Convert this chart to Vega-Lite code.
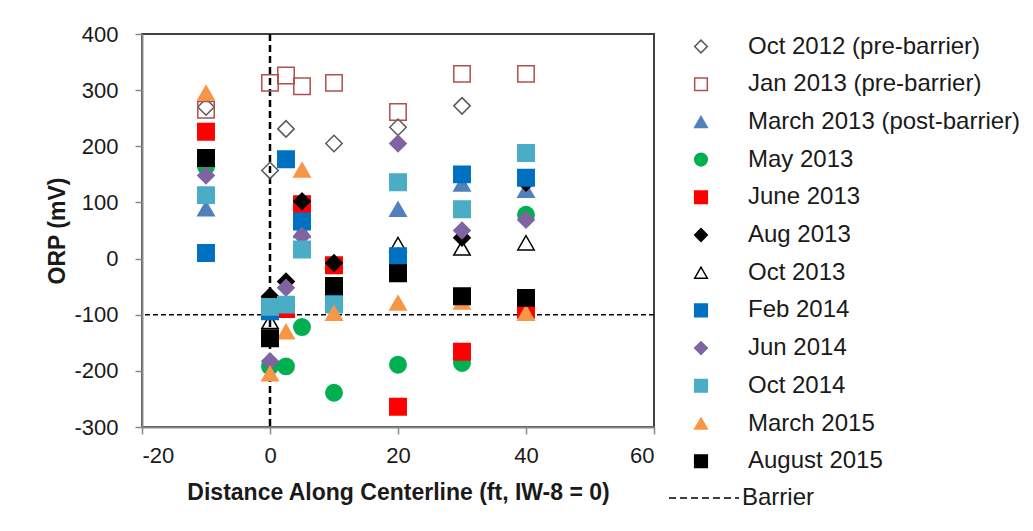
{
  "$schema": "https://vega.github.io/schema/vega-lite/v6.json",
  "autosize": "none",
  "width": 512,
  "height": 393,
  "padding": {"left": 142, "top": 34, "right": 379, "bottom": 104},
  "background": "white",
  "config": {
    "view": {"stroke": "#404040", "strokeWidth": 2},
    "font": "Liberation Sans",
    "axis": {
      "grid": false,
      "domainColor": "#888888",
      "domainWidth": 2,
      "tickColor": "#888888",
      "tickWidth": 1.5,
      "tickSize": 7,
      "labelFont": "Liberation Sans",
      "labelFontSize": 22,
      "labelColor": "#1a1a1a",
      "titleFont": "Liberation Sans",
      "titleFontSize": 23,
      "titleFontWeight": "bold",
      "titleColor": "#1a1a1a"
    }
  },
  "layer": [
    {
      "data": {"values": [{"y": -100}]},
      "mark": {"type": "rule", "color": "black", "strokeWidth": 1.5, "strokeDash": [5, 3]},
      "encoding": {"y": {"field": "y", "type": "quantitative"}}
    },
    {
      "data": {"values": [{"x": 0, "b": "Barrier"}]},
      "mark": {"type": "rule", "color": "black", "strokeWidth": 2.5},
      "encoding": {
        "x": {"field": "x", "type": "quantitative"},
        "strokeDash": {
          "field": "b",
          "type": "nominal",
          "scale": {"domain": ["Barrier"], "range": [[7, 4]]},
          "legend": {
            "title": null,
            "orient": "none",
            "legendX": 526,
            "legendY": 428,
            "padding": 0,
            "symbolType": "stroke",
            "symbolSize": 4900,
            "symbolStrokeWidth": 1.5,
            "symbolStrokeColor": "black",
            "labelOffset": 2,
            "labelFont": "Liberation Sans",
            "labelFontSize": 24,
            "labelColor": "#1a1a1a"
          }
        }
      }
    },
    {
      "data": {"values": [
        {"s": "Oct 2012 (pre-barrier)", "x": -10, "y": 270},
        {"s": "Oct 2012 (pre-barrier)", "x": 0, "y": 157},
        {"s": "Oct 2012 (pre-barrier)", "x": 2.5, "y": 231},
        {"s": "Oct 2012 (pre-barrier)", "x": 10, "y": 205},
        {"s": "Oct 2012 (pre-barrier)", "x": 20, "y": 234},
        {"s": "Oct 2012 (pre-barrier)", "x": 30, "y": 272},
        {"s": "Jan 2013 (pre-barrier)", "x": -10, "y": 265},
        {"s": "Jan 2013 (pre-barrier)", "x": 0, "y": 313},
        {"s": "Jan 2013 (pre-barrier)", "x": 2.5, "y": 326},
        {"s": "Jan 2013 (pre-barrier)", "x": 5, "y": 307},
        {"s": "Jan 2013 (pre-barrier)", "x": 10, "y": 313},
        {"s": "Jan 2013 (pre-barrier)", "x": 20, "y": 261},
        {"s": "Jan 2013 (pre-barrier)", "x": 30, "y": 329},
        {"s": "Jan 2013 (pre-barrier)", "x": 40, "y": 329},
        {"s": "March 2013 (post-barrier)", "x": -10, "y": 89},
        {"s": "March 2013 (post-barrier)", "x": 5, "y": 50},
        {"s": "March 2013 (post-barrier)", "x": 20, "y": 88},
        {"s": "March 2013 (post-barrier)", "x": 30, "y": 133},
        {"s": "March 2013 (post-barrier)", "x": 40, "y": 122},
        {"s": "May 2013", "x": -10, "y": 164},
        {"s": "May 2013", "x": 0, "y": -192},
        {"s": "May 2013", "x": 2.5, "y": -192},
        {"s": "May 2013", "x": 5, "y": -122},
        {"s": "May 2013", "x": 10, "y": -239},
        {"s": "May 2013", "x": 20, "y": -189},
        {"s": "May 2013", "x": 30, "y": -186},
        {"s": "May 2013", "x": 40, "y": 78},
        {"s": "June 2013", "x": -10, "y": 226},
        {"s": "June 2013", "x": 0, "y": -82},
        {"s": "June 2013", "x": 2.5, "y": -90},
        {"s": "June 2013", "x": 5, "y": 97},
        {"s": "June 2013", "x": 10, "y": -12},
        {"s": "June 2013", "x": 20, "y": -264},
        {"s": "June 2013", "x": 30, "y": -166},
        {"s": "June 2013", "x": 40, "y": -91},
        {"s": "Aug 2013", "x": -10, "y": 178},
        {"s": "Aug 2013", "x": 0, "y": -67},
        {"s": "Aug 2013", "x": 2.5, "y": -41},
        {"s": "Aug 2013", "x": 5, "y": 102},
        {"s": "Aug 2013", "x": 10, "y": -8},
        {"s": "Aug 2013", "x": 20, "y": 4},
        {"s": "Aug 2013", "x": 30, "y": 37},
        {"s": "Aug 2013", "x": 40, "y": 135},
        {"s": "Oct 2013", "x": 0, "y": -112},
        {"s": "Oct 2013", "x": 20, "y": 25},
        {"s": "Oct 2013", "x": 30, "y": 19},
        {"s": "Oct 2013", "x": 40, "y": 28},
        {"s": "Feb 2014", "x": -10, "y": 10},
        {"s": "Feb 2014", "x": 0, "y": -94},
        {"s": "Feb 2014", "x": 2.5, "y": 177},
        {"s": "Feb 2014", "x": 5, "y": 66},
        {"s": "Feb 2014", "x": 10, "y": -68},
        {"s": "Feb 2014", "x": 20, "y": 4},
        {"s": "Feb 2014", "x": 30, "y": 150},
        {"s": "Feb 2014", "x": 40, "y": 144},
        {"s": "Jun 2014", "x": -10, "y": 148},
        {"s": "Jun 2014", "x": 0, "y": -183},
        {"s": "Jun 2014", "x": 2.5, "y": -52},
        {"s": "Jun 2014", "x": 5, "y": 40},
        {"s": "Jun 2014", "x": 20, "y": 205},
        {"s": "Jun 2014", "x": 30, "y": 50},
        {"s": "Jun 2014", "x": 40, "y": 69},
        {"s": "Oct 2014", "x": -10, "y": 113},
        {"s": "Oct 2014", "x": 0, "y": -86},
        {"s": "Oct 2014", "x": 2.5, "y": -82},
        {"s": "Oct 2014", "x": 5, "y": 16},
        {"s": "Oct 2014", "x": 10, "y": -82},
        {"s": "Oct 2014", "x": 20, "y": 136},
        {"s": "Oct 2014", "x": 30, "y": 88},
        {"s": "Oct 2014", "x": 40, "y": 188},
        {"s": "March 2015", "x": -10, "y": 295},
        {"s": "March 2015", "x": 0, "y": -205},
        {"s": "March 2015", "x": 2.5, "y": -130},
        {"s": "March 2015", "x": 5, "y": 158},
        {"s": "March 2015", "x": 10, "y": -97},
        {"s": "March 2015", "x": 20, "y": -79},
        {"s": "March 2015", "x": 30, "y": -77},
        {"s": "March 2015", "x": 40, "y": -97},
        {"s": "August 2015", "x": -10, "y": 179},
        {"s": "August 2015", "x": 0, "y": -142},
        {"s": "August 2015", "x": 10, "y": -49},
        {"s": "August 2015", "x": 20, "y": -26},
        {"s": "August 2015", "x": 30, "y": -67},
        {"s": "August 2015", "x": 40, "y": -70}
      ]},
      "mark": {"type": "point", "filled": true, "size": 270, "strokeWidth": 1.5, "opacity": 1},
      "encoding": {
        "x": {
          "field": "x", "type": "quantitative",
          "scale": {"domain": [-20, 60], "nice": false, "zero": false},
          "axis": {"values": [-20, 0, 20, 40, 60], "labelPadding": 11, "titlePadding": 15,
                   "labelExpr": "'' + datum.value",
                   "title": "Distance Along Centerline (ft, IW-8 = 0)"}
        },
        "y": {
          "field": "y", "type": "quantitative",
          "scale": {"domain": [-300, 400], "nice": false, "zero": false},
          "axis": {"values": [-300, -200, -100, 0, 100, 200, 300, 400], "labelPadding": 17, "titlePadding": 4,
                   "labelExpr": "'' + datum.value",
                   "title": "ORP (mV)"}
        },
        "shape": {
          "field": "s", "type": "nominal",
          "scale": {
            "domain": ["Oct 2012 (pre-barrier)", "Jan 2013 (pre-barrier)", "March 2013 (post-barrier)", "May 2013", "June 2013", "Aug 2013", "Oct 2013", "Feb 2014", "Jun 2014", "Oct 2014", "March 2015", "August 2015"],
            "range": ["diamond", "square", "triangle-up", "circle", "square", "diamond", "triangle-up", "square", "diamond", "square", "triangle-up", "square"]
          },
          "legend": {
            "title": null,
            "orient": "none",
            "legendX": 547,
            "legendY": 0.5,
            "padding": 0,
            "symbolSize": 160,
            "labelOffset": 35,
            "labelLimit": 400,
            "rowPadding": 13.7,
            "labelFont": "Liberation Sans",
            "labelFontSize": 24,
            "labelColor": "#1a1a1a",
            "symbolStrokeWidth": 1.5
          }
        },
        "fill": {
          "field": "s", "type": "nominal",
          "scale": {
            "domain": ["Oct 2012 (pre-barrier)", "Jan 2013 (pre-barrier)", "March 2013 (post-barrier)", "May 2013", "June 2013", "Aug 2013", "Oct 2013", "Feb 2014", "Jun 2014", "Oct 2014", "March 2015", "August 2015"],
            "range": ["transparent", "transparent", "#4F81BD", "#00B050", "#FF0000", "#000000", "transparent", "#0070C0", "#8064A2", "#4BACC6", "#F79646", "#000000"]
          }
        },
        "stroke": {
          "field": "s", "type": "nominal",
          "scale": {
            "domain": ["Oct 2012 (pre-barrier)", "Jan 2013 (pre-barrier)", "March 2013 (post-barrier)", "May 2013", "June 2013", "Aug 2013", "Oct 2013", "Feb 2014", "Jun 2014", "Oct 2014", "March 2015", "August 2015"],
            "range": ["#595959", "#B0504E", "#4F81BD", "#00B050", "#FF0000", "#000000", "#000000", "#0070C0", "#8064A2", "#4BACC6", "#F79646", "#000000"]
          }
        }
      }
    }
  ]
}
